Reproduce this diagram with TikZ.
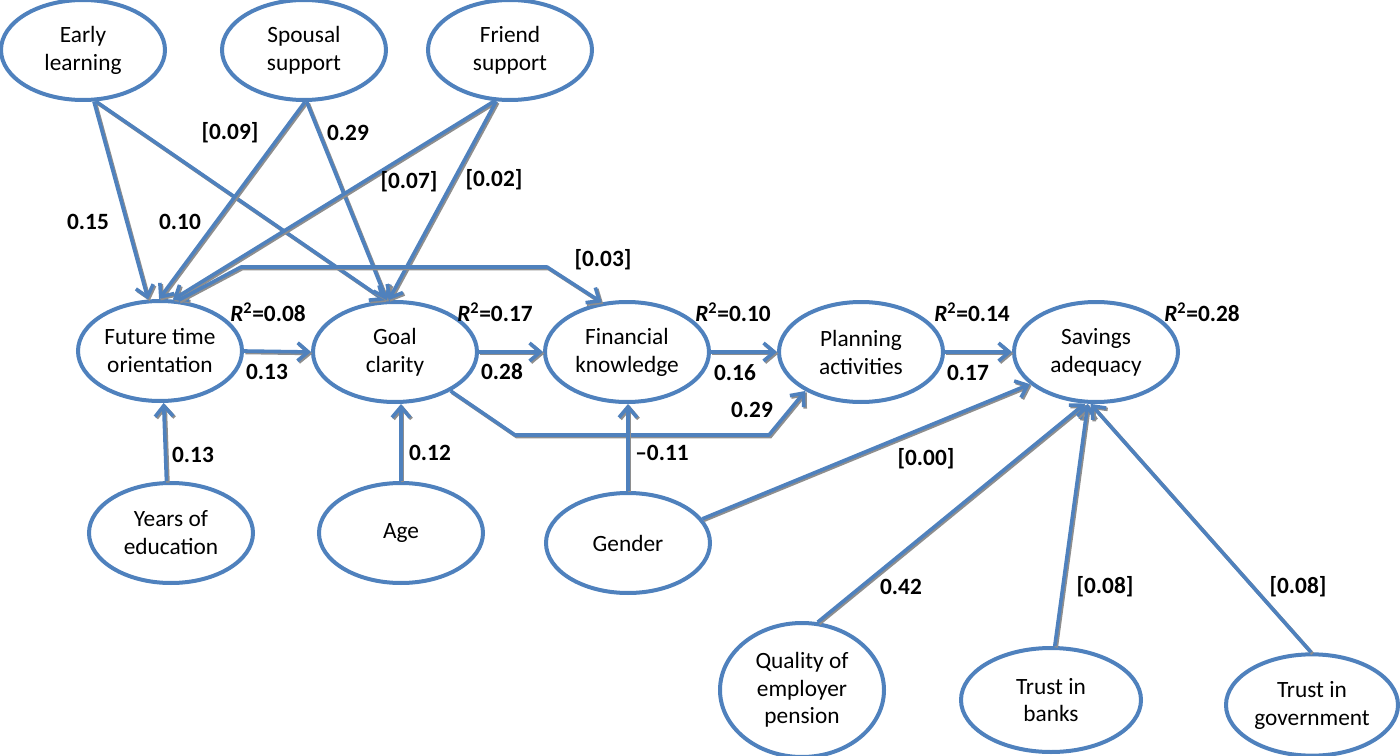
\documentclass[tikz,border=0pt]{standalone}
\usepackage{fontspec}
\setmainfont{Carlito}
\usetikzlibrary{shapes.geometric,arrows.meta}
\definecolor{lineblue}{HTML}{4F81BD}
\definecolor{shadowgray}{HTML}{8E8E8E}
\begin{document}
\begin{tikzpicture}[x=0.75pt,y=-0.75pt,
  var/.style={ellipse, draw=lineblue, line width=3pt, fill=white,
    minimum width=123pt, minimum height=75pt, inner sep=0pt, align=center,
    font=\fontsize{17.5}{21}\selectfont},
  conn/.style={draw=lineblue, line width=2.7pt, line join=round,
    -{Straight Barb[length=8pt,width=13.5pt]},
    preaction={draw=shadowgray, line width=2.7pt,
      transform canvas={xshift=1.1pt,yshift=-1.1pt}}},
  lab/.style={font=\bfseries\fontsize{17.5}{21}\selectfont, inner sep=0pt}]
\useasboundingbox (0,0) rectangle (1400,756);

% nodes
\node[var] (EL) at (83,50) {Early\\learning};
\node[var] (SS) at (304,50) {Spousal\\support};
\node[var] (FS) at (510,50) {Friend\\support};
\node[var] (FT) at (160,351) {Future time\\orientation};
\node[var] (GC) at (395,352) {Goal\\clarity};
\node[var] (FK) at (627,352) {Financial\\knowledge};
\node[var] (PA) at (861,352) {Planning\\activities};
\node[var] (SA) at (1096,352) {Savings\\adequacy};
\node[var] (YE) at (171,533) {Years of\\education};
\node[var] (AG) at (401,533) {Age};
\node[var] (GE) at (628,543) {Gender};
\node[var, minimum height=100.5pt, font=\fontsize{17.5}{20.5}\selectfont] (QP) at (802,690) {Quality of\\employer\\pension};
\node[var, minimum width=135pt, minimum height=78pt, font=\fontsize{17.5}{20.5}\selectfont] (TB) at (1051,700) {Trust in\\banks};
\node[var, minimum width=129pt, minimum height=76pt, font=\fontsize{17.5}{21}\selectfont] (TG) at (1312,705) {Trust in\\government};

% bend points
\coordinate (b1) at (241,267);
\coordinate (b2) at (547,267);
\coordinate (b3) at (515,435);
\coordinate (b4) at (769,435);

% connectors
\draw[conn] (EL.-78) -- (FT.103);
\draw[conn] (EL.-76) -- (GC.101);
\draw[conn] (SS.-89) -- (FT.91);
\draw[conn] (SS.-87) -- (GC.99);
\draw[conn] (FS.-107) -- (FT.76);
\draw[conn] (FS.-105) -- (GC.97);
\draw[conn] (FT.70) -- (b1) -- (b2) -- (FK.117);
\draw[conn] (FT.east) -- (GC.west);
\draw[conn] (GC.east) -- (FK.west);
\draw[conn] (FK.east) -- (PA.west);
\draw[conn] (PA.east) -- (SA.west);
\draw[conn] (GC.-35) -- (b3) -- (b4) -- (PA.215);
\draw[conn] (YE.95) -- (FT.274);
\draw[conn] (AG.north) -- (AG.north |- GC.south);
\draw[conn] (GE.north) -- (GE.north |- FK.south);
\draw[conn] (GE.18) -- (SA.206);
\draw[conn] (QP.77) -- (SA.258);
\draw[conn] (TB.86) -- (SA.261);
\draw[conn] (TG.91) -- (SA.264);

% labels
\node[lab] (l1) at (88,222) {0.15};
\node[lab] (l2) at (180,222) {0.10};
\node[lab] (l3) at (230,133) {[0.09]};
\node[lab] (l4) at (348,133) {0.29};
\node[lab] (l5) at (409,182) {[0.07]};
\node[lab] (l6) at (494,180) {[0.02]};
\node[lab] (l7) at (603,260) {[0.03]};
\node[lab] (r1) at (268,312) {\textit{R}\textsuperscript{2}=0.08};
\node[lab] (r2) at (495,312) {\textit{R}\textsuperscript{2}=0.17};
\node[lab] (r3) at (733,312) {\textit{R}\textsuperscript{2}=0.10};
\node[lab] (r4) at (972,312) {\textit{R}\textsuperscript{2}=0.14};
\node[lab] (r5) at (1202,312) {\textit{R}\textsuperscript{2}=0.28};
\node[lab] (l8) at (267,372) {0.13};
\node[lab] (l9) at (502,372) {0.28};
\node[lab] (l10) at (735,373) {0.16};
\node[lab] (l11) at (968,373) {0.17};
\node[lab] (l12) at (193,455) {0.13};
\node[lab] (l13) at (430,453) {0.12};
\node[lab] (l14) at (662,453) {–0.11};
\node[lab] (l15) at (752,410) {0.29};
\node[lab] (l16) at (926,459) {[0.00]};
\node[lab] (l17) at (901,587) {0.42};
\node[lab] (l18) at (1105,587) {[0.08]};
\node[lab] (l19) at (1298,587) {[0.08]};
\end{tikzpicture}
\end{document}
